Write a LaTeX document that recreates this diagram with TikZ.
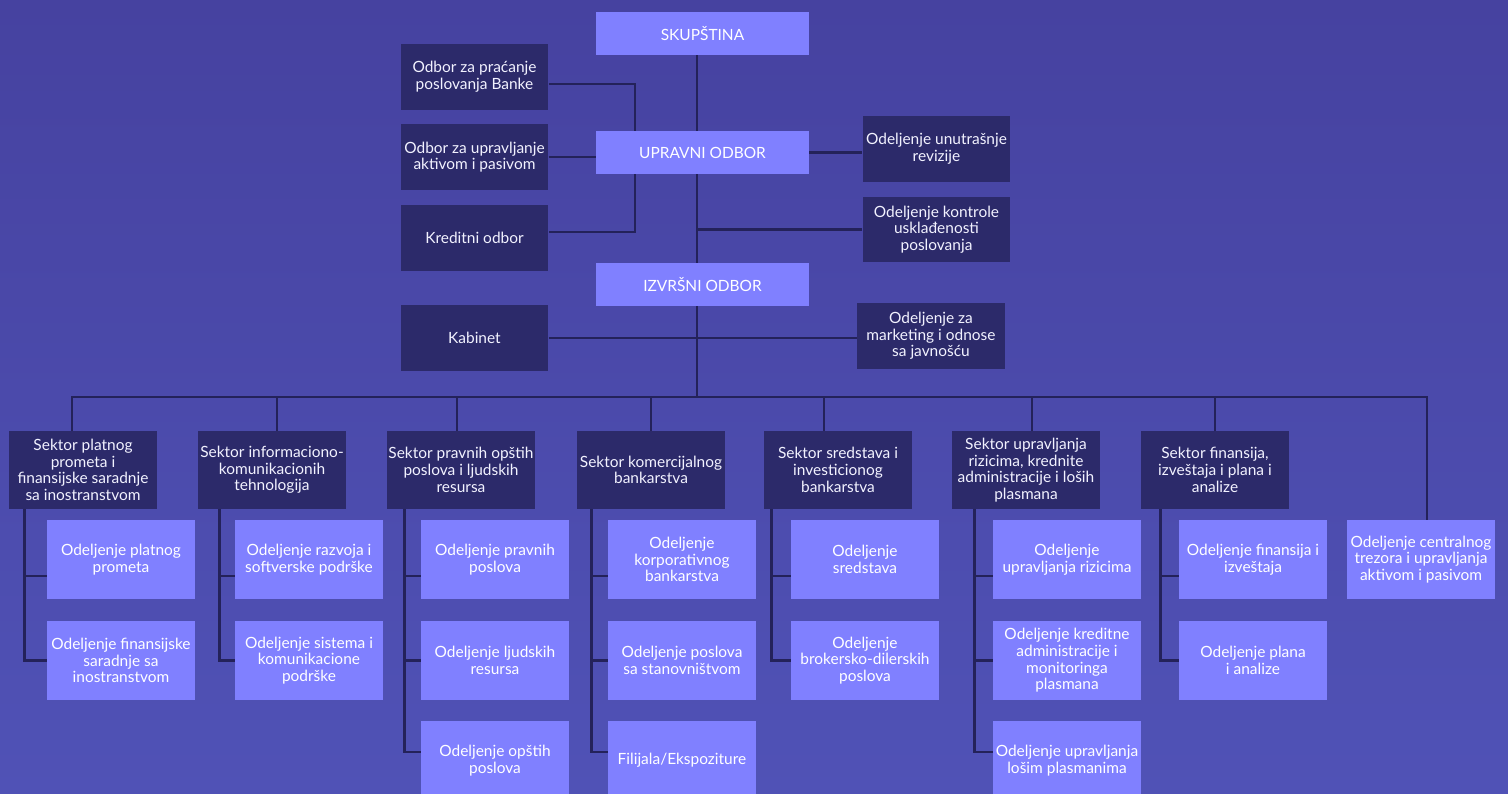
\documentclass[tikz,border=0pt]{standalone}
\usepackage{fontspec}
\setmainfont{Lato}
\usetikzlibrary{backgrounds}
\definecolor{bgtop}{RGB}{70,66,160}
\definecolor{bgbot}{RGB}{80,82,182}
\definecolor{darkbox}{RGB}{44,42,106}
\definecolor{lightbox}{RGB}{128,128,255}
\definecolor{wirecol}{RGB}{36,34,90}
\begin{document}
\begin{tikzpicture}[x=0.02cm, y=-0.02cm,
    box/.style={rectangle, inner sep=0pt, align=center, text=white,
      font=\fontsize{8.8}{9.5}\selectfont},
    head/.style={box, fill=lightbox, minimum width=4.26cm, minimum height=0.86cm},
    board/.style={box, fill=darkbox, text=white!90!lightbox, minimum width=2.96cm,
      minimum height=1.32cm},
    sector/.style={board, minimum height=1.56cm},
    dept/.style={box, fill=lightbox, minimum width=2.96cm, minimum height=1.58cm},
    wire/.style={draw=wirecol, line width=1.6pt}]
    \useasboundingbox (0,0) rectangle (1508,794);

    % uprava
    \node [head] (skup) at (702.5,33.5) {SKUPŠTINA}; \node [head] (upravni) at
    (702.5,152.5) {UPRAVNI ODBOR}; \node [head] (izvrsni) at (702.5,284.5)
    {IZVRŠNI ODBOR};
    \begin{scope}[every node/.style={board}]
      \node (odbor1) at (474.5,77) {Odbor za praćanje\\poslovanja Banke};
      \node (odbor2) at (474.5,157) {Odbor za upravljanje\\aktivom i pasivom};
      \node (kredit) at (474.5,238) {Kreditni odbor}; \node (revizija) at
      (936.5,149) {Odeljenje unutrašnje\\revizije}; \node (kontrola) at
      (936.5,229.5) {Odeljenje kontrole\\usklađenosti\\poslovanja};
      \node (kabinet) at (474.5,338) {Kabinet}; \node (marketing) at
      (931,336) {Odeljenje za\\marketing i odnose\\sa javnošću};
    \end{scope}

    % sektori
    \begin{scope}[every node/.style={sector}]
      \node (s1) at (83,470) {Sektor platnog\\prometa i\\finansijske
        saradnje\\sa inostranstvom}; \node (s2) at (272,470) {Sektor
        informaciono-\\komunikacionih\\tehnologija}; \node (s3) at (461,470)
      {Sektor pravnih opštih\\poslova i ljudskih\\resursa}; \node (s4) at
      (651,470) {Sektor komercijalnog\\bankarstva}; \node (s5) at (838,470)
      {Sektor sredstava i\\investicionog\\bankarstva}; \node (s6) at
      (1026,470) {Sektor upravljanja\\rizicima, krednite\\administracije i
        loših\\plasmana}; \node (s7) at (1215,470) {Sektor
        finansija,\\izveštaja i plana i\\analize};
    \end{scope}

    % odeljenja
    \begin{scope}[every node/.style={dept}]
      \node (c11) at (121,559.5) {Odeljenje platnog\\prometa}; \node (c12) at
      (121,660.5) {Odeljenje finansijske\\saradnje sa\\inostranstvom};
      \node (c21) at (309,559.5) {Odeljenje razvoja i\\softverske podrške};
      \node (c22) at (309,660.5) {Odeljenje sistema i\\komunikacione\\podrške};
      \node (c31) at (495,559.5) {Odeljenje pravnih\\poslova}; \node (c32) at
      (495,660.5) {Odeljenje ljudskih\\resursa}; \node (c33) at (495,760.5)
      {Odeljenje opštih\\poslova};
      \node (c41) at (682,559.5) {Odeljenje\\korporativnog\\bankarstva};
      \node (c42) at (682,660.5) {Odeljenje poslova\\sa stanovništvom};
      \node (c43) at (682,760.5) {Filijala/Ekspoziture};
      \node (c51) at (865,559.5) {Odeljenje\\sredstava}; \node (c52) at
      (865,660.5) {Odeljenje\\brokersko-dilerskih\\poslova};
      \node (c61) at (1067,559.5) {Odeljenje\\upravljanja rizicima};
      \node (c62) at (1067,660.5) {Odeljenje kreditne\\administracije
        i\\monitoringa\\plasmana}; \node (c63) at (1067,760.5) {Odeljenje
        upravljanja\\lošim plasmanima};
      \node (c71) at (1253,559.5) {Odeljenje finansija i\\izveštaja};
      \node (c72) at (1253,660.5) {Odeljenje plana\\i analize};
      \node (c8) at (1421,559.5) {Odeljenje centralnog\\trezora i
        upravljanja\\aktivom i pasivom};
    \end{scope}

    \coordinate (bus) at (697,397); \coordinate (odj) at (635,152);

    \begin{scope}[on background layer]
      \shade [top color=bgtop, bottom color=bgbot] (0,0) rectangle (1508,794);
      \begin{scope}[wire]
        \draw (skup.south -| bus) -- (bus); \draw ([yshift=-.14cm]odbor1.east)
        -| (odj) |- ([yshift=.12cm]kredit.east); \draw (odbor2.east) --
        (odbor2.east -| upravni.west); \draw (upravni.east) -- (upravni.east
        -| revizija.west); \draw (kontrola.west) -- (kontrola.west -| bus);
        \draw (kabinet.east) -- (kabinet.east -| marketing.west);
        \draw ([xshift=-.22cm]s1.north) |- (bus) -| ([xshift=.12cm]c8.north);
        \draw ([xshift=.1cm]s2.north) -- ([xshift=.1cm]s2.north |- bus); \draw
        ([xshift=-.08cm]s3.north) -- ([xshift=-.08cm]s3.north |- bus); \draw
        (s4.north) -- (s4.north |- bus); \draw ([xshift=-.28cm]s5.north) --
        ([xshift=-.28cm]s5.north |- bus); \draw ([xshift=.12cm]s6.north) --
        ([xshift=.12cm]s6.north |- bus); \draw (s7.north) -- (s7.north |-
        bus);
        % veze sektor - odeljenje
        \draw ([xshift=.32cm]s1.south west) |- ([yshift=-.33cm]c11.west);
        \draw ([xshift=.32cm]s1.south west) |- (c12.west);
        \draw ([xshift=.44cm]s2.south west) |- ([yshift=-.33cm]c21.west);
        \draw ([xshift=.44cm]s2.south west) |- (c22.west);
        \draw ([xshift=.36cm]s3.south west) |- ([yshift=-.33cm]c31.west);
        \draw ([xshift=.36cm]s3.south west) |- (c32.west); \draw
        ([xshift=.36cm]s3.south west) |- ([yshift=.17cm]c33.west);
        \draw ([xshift=.3cm]s4.south west) |- ([yshift=-.33cm]c41.west);
        \draw ([xshift=.3cm]s4.south west) |- (c42.west); \draw
        ([xshift=.3cm]s4.south west) |- ([yshift=.17cm]c43.west);
        \draw ([xshift=.16cm]s5.south west) |- ([yshift=-.33cm]c51.west);
        \draw ([xshift=.16cm]s5.south west) |- (c52.west);
        \draw ([xshift=.46cm]s6.south west) |- ([yshift=-.33cm]c61.west);
        \draw ([xshift=.46cm]s6.south west) |- (c62.west); \draw
        ([xshift=.46cm]s6.south west) |- ([yshift=.17cm]c63.west);
        \draw ([xshift=.4cm]s7.south west) |- ([yshift=-.33cm]c71.west);
        \draw ([xshift=.4cm]s7.south west) |- (c72.west);
      \end{scope}
    \end{scope}
  \end{tikzpicture}
\end{document}
